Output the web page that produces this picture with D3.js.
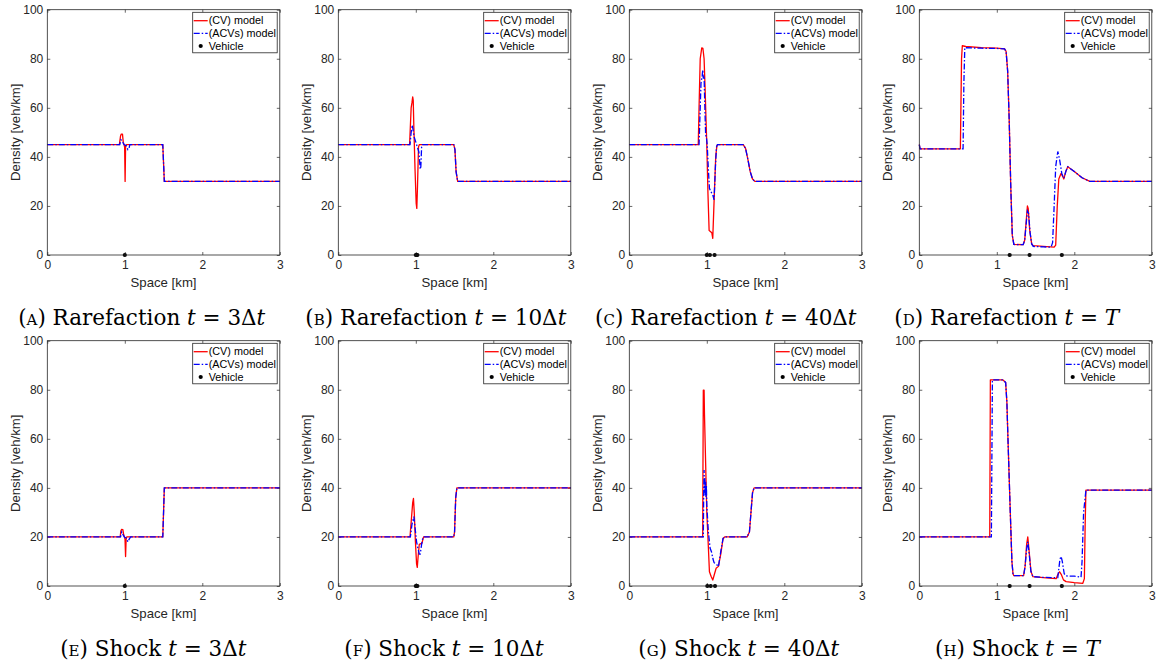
<!DOCTYPE html>
<html>
<head>
<meta charset="utf-8">
<script src="https://cdn.jsdelivr.net/npm/d3@7"></script>
<style>
  html, body { margin: 0; padding: 0; background: #ffffff; }
  svg { display: block; }
</style>
</head>
<body>
<svg id="chart" width="1164" height="666"></svg>
<script>
// ---------------- DATA ----------------
const xTicks = [0, 1, 2, 3];
const yTicks = [0, 20, 40, 60, 80, 100];
const xLabel = "Space [km]";
const yLabel = "Density [veh/km]";
const legendLabels = ["(CV) model", "(ACVs) model", "Vehicle"];

// Rarefaction t = 3Δt
const rareA_cv  = [[0,45],[0.93,45],[0.945,48.5],[0.955,49.3],[0.97,49.3],[0.98,46],[0.99,45],[0.998,44],[1.004,30],[1.01,44],[1.02,45],[1.49,45],[1.51,30],[3,30]];
const rareA_acv = [[0,45],[0.935,45],[0.95,47],[0.965,46.5],[0.99,45],[1.02,44.5],[1.04,43],[1.055,43.5],[1.065,45],[1.49,45],[1.51,30],[3,30]];
const rareA_veh = [1.0];
// Rarefaction t = 10Δt
const rareB_cv  = [[0,45],[0.92,45],[0.94,60],[0.95,62],[0.96,64.5],[0.967,63],[0.975,52],[0.99,35],[1.005,21],[1.013,19],[1.022,28],[1.035,44],[1.045,45],[1.49,45],[1.505,43],[1.52,34],[1.54,30],[3,30]];
const rareB_acv = [[0,45],[0.925,45],[0.94,50],[0.955,53],[0.965,51],[0.98,48],[1.0,46],[1.02,44],[1.04,42],[1.05,38],[1.057,35],[1.065,36],[1.075,44],[1.085,45],[1.49,45],[1.505,43],[1.52,34],[1.54,30],[3,30]];
const rareB_veh = [1.0, 1.02];
// Rarefaction t = 40Δt
const rareC_cv  = [[0,45],[0.89,45],[0.90,60],[0.915,80],[0.935,84.4],[0.95,84.2],[0.965,80],[0.978,68],[0.99,55],[1.0,45],[1.015,25],[1.03,10],[1.05,9.5],[1.065,9],[1.077,6.8],[1.094,22],[1.115,40],[1.13,44.5],[1.14,45],[1.47,45],[1.50,43.5],[1.53,39],[1.56,34],[1.59,31],[1.62,30],[3,30]];
const rareC_acv = [[0,45],[0.90,45],[0.91,55],[0.925,70],[0.94,73],[0.948,75.5],[0.955,72],[0.965,73],[0.975,60],[0.985,49],[0.995,48],[1.005,45],[1.02,35],[1.034,27.2],[1.05,26],[1.077,24.5],[1.094,22.5],[1.11,35],[1.125,44],[1.137,45],[1.47,45],[1.50,43.5],[1.53,39],[1.56,34],[1.59,31],[1.62,30],[3,30]];
const rareC_veh = [1.0, 1.04, 1.1];
// Rarefaction t = T
const rareD_cv  = [[0,45],[0.01,43.3],[0.53,43.3],[0.545,80],[0.555,85.3],[0.6,85],[0.8,84.5],[1.0,84.3],[1.1,84],[1.12,83],[1.14,75],[1.16,55],[1.18,28],[1.2,8],[1.22,4.3],[1.34,4.2],[1.36,6],[1.38,14],[1.395,20],[1.405,19],[1.425,10],[1.45,4.5],[1.47,3.8],[1.6,3.5],[1.74,3.2],[1.76,4],[1.78,20],[1.80,31],[1.83,33.3],[1.865,31],[1.89,34],[1.916,36],[2.0,34],[2.1,31.5],[2.2,30],[3,30]];
const rareD_acv = [[0,45],[0.01,43.3],[0.565,43.3],[0.575,70],[0.587,84.5],[0.8,84.3],[1.0,84.2],[1.1,84],[1.12,83],[1.14,75],[1.16,55],[1.18,28],[1.2,8],[1.22,4.3],[1.34,4.2],[1.36,6],[1.38,13],[1.395,18],[1.41,17],[1.43,9],[1.45,4.5],[1.47,3.5],[1.6,3.3],[1.7,3.2],[1.72,5],[1.74,20],[1.76,36],[1.787,42.2],[1.81,39],[1.84,33],[1.865,31.3],[1.89,34],[1.916,36],[2.0,34],[2.1,31.5],[2.2,30],[3,30]];
const rareD_veh = [1.166, 1.423, 1.839];
// Shock t = 3Δt
const shockE_cv  = [[0,20],[0.94,20],[0.95,22.5],[0.96,23.1],[0.975,23],[0.985,21],[0.995,20],[1.003,19],[1.01,12],[1.017,19],[1.025,20],[1.49,20],[1.51,40],[3,40]];
const shockE_acv = [[0,20],[0.945,20],[0.96,22],[0.975,21],[0.995,20],[1.02,19.5],[1.04,18],[1.055,19],[1.075,20],[1.49,20],[1.51,40],[3,40]];
const shockE_veh = [1.0];
// Shock t = 10Δt
const shockF_cv  = [[0,20],[0.925,20],[0.945,28],[0.96,34],[0.97,35.7],[0.98,30],[0.995,18],[1.01,9],[1.019,7.6],[1.03,12],[1.045,17],[1.08,17.5],[1.1,20],[1.49,20],[1.50,22],[1.515,36],[1.53,40],[3,40]];
const shockF_acv = [[0,20],[0.93,20],[0.95,25],[0.975,28.3],[0.99,24],[1.01,18],[1.03,15],[1.045,13],[1.057,13],[1.075,17],[1.09,19.5],[1.1,20],[1.49,20],[1.50,22],[1.515,36],[1.53,40],[3,40]];
const shockF_veh = [1.0, 1.02];
// Shock t = 40Δt
const shockG_cv  = [[0,20],[0.947,20],[0.95,45],[0.955,79.8],[0.965,79.8],[0.97,70],[0.985,50],[1.0,30],[1.02,16],[1.034,5.8],[1.055,4],[1.077,2.4],[1.1,5],[1.12,7.2],[1.15,8],[1.18,13],[1.21,19.4],[1.23,20],[1.52,20],[1.55,22],[1.57,30],[1.59,38],[1.61,40],[3,40]];
const shockG_acv = [[0,20],[0.955,20],[0.96,38],[0.965,47.3],[0.97,38],[0.975,44],[0.98,37],[0.985,42.5],[0.99,36],[0.995,41],[1.0,33],[1.02,22],[1.043,15.4],[1.06,14],[1.08,11],[1.094,9.5],[1.12,9],[1.15,7.9],[1.18,14],[1.21,19.4],[1.23,20],[1.52,20],[1.55,22],[1.57,30],[1.59,38],[1.61,40],[3,40]];
const shockG_veh = [1.007, 1.05, 1.106];
// Shock t = T
const shockH_cv  = [[0,20],[0.909,20],[0.917,84],[1.08,84],[1.114,83],[1.13,75],[1.144,60],[1.174,30],[1.195,10],[1.209,5],[1.22,4.2],[1.346,4.2],[1.365,8],[1.385,17],[1.40,20],[1.415,15],[1.44,6],[1.466,3.8],[1.6,3.4],[1.766,3],[1.785,4.5],[1.81,5.8],[1.835,4.5],[1.86,2.5],[1.894,1.8],[2.0,1.4],[2.11,1.1],[2.13,3],[2.14,25],[2.15,39.1],[3,39.1]];
const shockH_acv = [[0,20],[0.93,20],[0.943,84],[1.08,84],[1.114,83],[1.13,75],[1.144,60],[1.174,30],[1.195,10],[1.209,5],[1.22,4.2],[1.346,4.2],[1.365,8],[1.385,15],[1.40,18],[1.415,14],[1.44,6],[1.466,3.8],[1.6,3.5],[1.787,3.4],[1.80,7],[1.815,11],[1.83,12],[1.845,10],[1.87,5],[1.894,4.1],[2.0,4],[2.087,3.6],[2.1,10],[2.12,30],[2.15,39.1],[3,39.1]];
const shockH_veh = [1.166, 1.423, 1.839];

// Caption texts
const captionLetters = ["a","b","c","d","e","f","g","h"];
const captionWords = ["Rarefaction","Rarefaction","Rarefaction","Rarefaction","Shock","Shock","Shock","Shock"];
const captionTimes = ["3Δ","10Δ","40Δ","T","3Δ","10Δ","40Δ","T"];

// ---------------- LAYOUT ----------------
const panelData = [
  [rareA_cv, rareA_acv, rareA_veh], [rareB_cv, rareB_acv, rareB_veh],
  [rareC_cv, rareC_acv, rareC_veh], [rareD_cv, rareD_acv, rareD_veh],
  [shockE_cv, shockE_acv, shockE_veh], [shockF_cv, shockF_acv, shockF_veh],
  [shockG_cv, shockG_acv, shockG_veh], [shockH_cv, shockH_acv, shockH_veh]
];
const colLeft = [47.3, 338.3, 629.3, 919.3];
const rowTop = [9.7, 340.7];
const pw = 232.5, ph = 245.3;
const captionX = [141.7, 435.8, 725.8, 1006.7, 153.3, 444, 738.8, 1017.5];
const captionY = [325, 656];

const axisColor = "#262626";
const sans = "'Liberation Sans', Arial, Helvetica, sans-serif";
const svg = d3.select("#chart");

panelData.forEach((pd, i) => {
  const row = Math.floor(i / 4), col = i % 4;
  const x0 = colLeft[col], y0 = rowTop[row];
  const g = svg.append("g").attr("transform", `translate(${x0},${y0})`);
  const x = d3.scaleLinear().domain([0, 3]).range([0, pw]);
  const y = d3.scaleLinear().domain([0, 100]).range([ph, 0]);

  // axes
  const styleAxis = sel => {
    sel.select(".domain").remove();
    sel.selectAll("line").attr("stroke", axisColor).attr("stroke-width", 0.7);
    sel.selectAll("text").attr("fill", axisColor).attr("font-family", sans).attr("font-size", 12);
  };
  g.append("g").attr("transform", `translate(0,${ph})`)
    .call(d3.axisBottom(x).tickValues(xTicks).tickFormat(d3.format("d")).tickSizeInner(-3).tickSizeOuter(0).tickPadding(5))
    .call(styleAxis);
  g.append("g")
    .call(d3.axisTop(x).tickValues(xTicks).tickFormat("").tickSizeInner(-3).tickSizeOuter(0))
    .call(styleAxis);
  g.append("g")
    .call(d3.axisLeft(y).tickValues(yTicks).tickFormat(d3.format("d")).tickSizeInner(-3).tickSizeOuter(0).tickPadding(4))
    .call(styleAxis);
  g.append("g").attr("transform", `translate(${pw},0)`)
    .call(d3.axisRight(y).tickValues(yTicks).tickFormat("").tickSizeInner(-3).tickSizeOuter(0))
    .call(styleAxis);

  const line = d3.line().x(d => x(d[0])).y(d => y(d[1]));
  g.append("path").datum(pd[0]).attr("d", line)
    .attr("fill", "none").attr("stroke", "#ff0000").attr("stroke-width", 1.3).attr("stroke-linejoin", "round");
  g.append("path").datum(pd[1]).attr("d", line)
    .attr("fill", "none").attr("stroke", "#0000ff").attr("stroke-width", 1.3)
    .attr("stroke-dasharray", "6,2,1.5,2");
  g.selectAll("circle.veh").data(pd[2]).enter().append("circle")
    .attr("class", "veh").attr("cx", d => x(d)).attr("cy", y(0)).attr("r", 2.1).attr("fill", "#000");

  // box
  g.append("rect").attr("x", 0).attr("y", 0).attr("width", pw).attr("height", ph)
    .attr("fill", "none").attr("stroke", axisColor).attr("stroke-width", 0.8);

  // axis labels
  g.append("text").attr("x", pw / 2).attr("y", ph + 32.5)
    .attr("text-anchor", "middle").attr("font-family", sans).attr("font-size", 13.2).attr("fill", axisColor)
    .text(xLabel);
  g.append("text").attr("transform", `translate(-27.5,${ph / 2}) rotate(-90)`)
    .attr("text-anchor", "middle").attr("font-family", sans).attr("font-size", 13.2).attr("fill", axisColor)
    .text(yLabel);

  // legend
  const lw = 84.5, lh = 40.5;
  const lg = g.append("g").attr("transform", `translate(${pw - 2.6 - lw},2.6)`);
  lg.append("rect").attr("width", lw).attr("height", lh).attr("fill", "#fff")
    .attr("stroke", axisColor).attr("stroke-width", 0.8);
  const rows = [8.4, 21, 33.7];
  lg.append("line").attr("x1", 1).attr("x2", 15).attr("y1", rows[0]).attr("y2", rows[0])
    .attr("stroke", "#ff0000").attr("stroke-width", 1.3);
  lg.append("line").attr("x1", 1).attr("x2", 15).attr("y1", rows[1]).attr("y2", rows[1])
    .attr("stroke", "#0000ff").attr("stroke-width", 1.3).attr("stroke-dasharray", "6,2,1.5,2");
  lg.append("circle").attr("cx", 8).attr("cy", rows[2]).attr("r", 2.1).attr("fill", "#000");
  legendLabels.forEach((t, k) => {
    lg.append("text").attr("x", 16).attr("y", rows[k]).attr("dy", "0.35em")
      .attr("font-family", sans).attr("font-size", 10.8).attr("fill", "#000").text(t);
  });

  // caption
  const cap = svg.append("text").attr("x", captionX[i]).attr("y", captionY[row])
    .attr("text-anchor", "middle").attr("font-family", "'DejaVu Serif', serif").attr("font-size", 21.5).attr("fill", "#000");
  cap.append("tspan").text("(");
  cap.append("tspan").attr("font-variant", "small-caps").text(captionLetters[i]);
  cap.append("tspan").text(") " + captionWords[i] + " ");
  cap.append("tspan").attr("font-style", "italic").text("t");
  if (captionTimes[i] === "T") {
    cap.append("tspan").text(" = ");
    cap.append("tspan").attr("font-style", "italic").text("T");
  } else {
    cap.append("tspan").text(" = " + captionTimes[i]);
    cap.append("tspan").attr("font-style", "italic").text("t");
  }
});
</script>
</body>
</html>
